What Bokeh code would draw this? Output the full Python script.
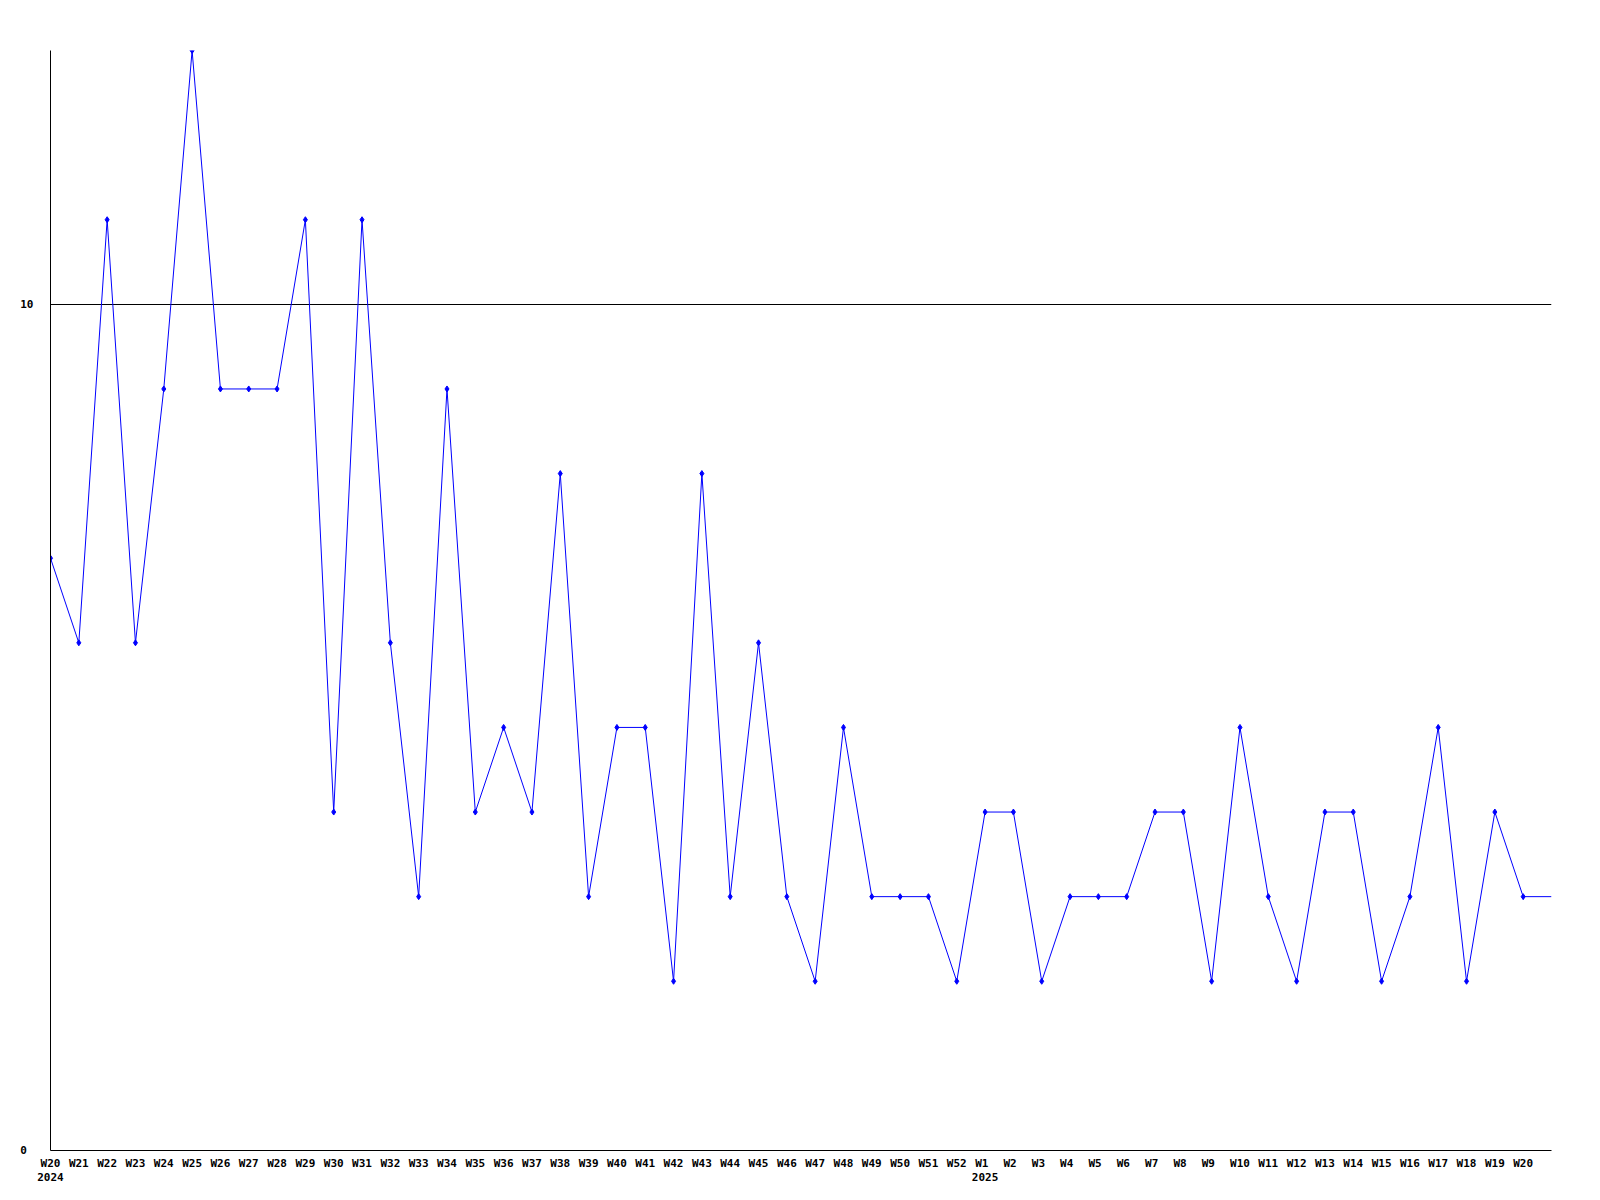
from bokeh.plotting import figure
from bokeh.models import Range1d, FixedTicker, LinearAxis
from bokeh.embed import file_html
from bokeh.resources import INLINE

weeks = ["W20", "W21", "W22", "W23", "W24", "W25", "W26", "W27", "W28", "W29",
         "W30", "W31", "W32", "W33", "W34", "W35", "W36", "W37", "W38", "W39",
         "W40", "W41", "W42", "W43", "W44", "W45", "W46", "W47", "W48", "W49",
         "W50", "W51", "W52",
         "W1", "W2", "W3", "W4", "W5", "W6", "W7", "W8", "W9", "W10",
         "W11", "W12", "W13", "W14", "W15", "W16", "W17", "W18", "W19", "W20"]
values = [7, 6, 11, 6, 9, 13, 9, 9, 9, 11,
          4, 11, 6, 3, 9, 4, 5, 4, 8, 3,
          5, 5, 2, 8, 3, 6, 3, 2, 5, 3,
          3, 3, 2,
          4, 4, 2, 3, 3, 3, 4, 4, 2, 5,
          3, 2, 4, 4, 2, 3, 5, 2, 4, 3]
year_labels = {"2024": 0, "2025": 33}
y_ticks = [0, 10]

FONT = "DejaVu Sans Mono"
n = len(values)
xs = list(range(n))

p = figure(width=1588, height=1183, output_backend="svg", toolbar_location=None,
           x_range=Range1d(0, n), y_range=Range1d(0, 13),
           min_border_left=50, min_border_top=50, min_border_right=37, min_border_bottom=20)
p.outline_line_color = None
p.background_fill_color = "white"
p.border_fill_color = "white"

# line, extended flat to the right edge of the range
p.line(xs + [n], values + [values[-1]], line_color="#0000ff", line_width=1)
p.scatter(xs, values, marker="diamond", size=6, fill_color="#0000ff", line_color="#0000ff")

# x axis
xa = p.xaxis[0]
xa.ticker = FixedTicker(ticks=xs)
xa.major_label_overrides = {i: (w if len(w) >= 3 else w + "\u00a0" * (3 - len(w))) for i, w in enumerate(weeks)}
xa.major_tick_line_color = None
xa.minor_tick_line_color = None
xa.major_tick_out = 0
xa.major_label_standoff = 6
xa.axis_line_color = "black"
xa.major_label_text_font = FONT
xa.major_label_text_font_style = "bold"
xa.major_label_text_font_size = "11px"
xa.major_label_text_color = "black"

# year axis
ya2 = LinearAxis(ticker=FixedTicker(ticks=list(year_labels.values())),
                 major_label_overrides={v: k for k, v in year_labels.items()})
ya2.axis_line_color = None
ya2.major_tick_line_color = None
ya2.minor_tick_line_color = None
ya2.major_tick_out = 0
ya2.major_label_standoff = 0
ya2.major_label_text_font = FONT
ya2.major_label_text_font_style = "bold"
ya2.major_label_text_font_size = "11px"
ya2.major_label_text_color = "black"
p.add_layout(ya2, "below")

# y axis
ya = p.yaxis[0]
ya.ticker = FixedTicker(ticks=y_ticks)
ya.major_label_overrides = {t: (str(t) if len(str(t)) >= 2 else str(t) + "\u00a0") for t in y_ticks}
ya.major_tick_line_color = None
ya.minor_tick_line_color = None
ya.major_tick_out = 0
ya.major_label_standoff = 17
ya.axis_line_color = "black"
ya.major_label_text_font = FONT
ya.major_label_text_font_style = "bold"
ya.major_label_text_font_size = "11px"
ya.major_label_text_color = "black"

p.xgrid.grid_line_color = None
p.ygrid.grid_line_color = "black"
p.ygrid.grid_line_width = 1

open("out.html", "w").write(file_html(p, INLINE))
